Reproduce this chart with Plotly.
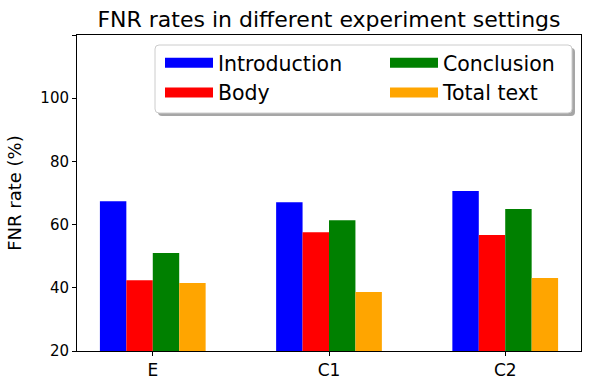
import plotly.graph_objects as go

categories = ["E", "C1", "C2"]
series_names = ["Introduction", "Body", "Conclusion", "Total text"]
introduction = [67.4, 67.1, 70.6]
body = [42.4, 57.6, 56.7]
conclusion = [51.0, 61.4, 64.9]
total_text = [41.5, 38.7, 43.1]
colors = ["blue", "red", "green", "orange"]
y_ticks = [20, 40, 60, 80, 100, 120]
y_ticklabels = ["20", "40", "60", "80", "100", ""]

values = [introduction, body, conclusion, total_text]
legend_ids = ["legend", "legend", "legend2", "legend2"]

# plot area in pixels
L, R, T, B = 77, 581, 35, 351
W, H = R - L, B - T


def px_x(p):
    return (p - L) / W


def px_y(p):
    return (B - p) / H


def rounded_rect(x0, y0, x1, y1, r):
    rx, ry = r / W, r / H
    X0, X1 = px_x(x0), px_x(x1)
    Y0, Y1 = px_y(y0), px_y(y1)
    return (f"M{X0+rx},{Y0} L{X1-rx},{Y0} Q{X1},{Y0} {X1},{Y0-ry} "
            f"L{X1},{Y1+ry} Q{X1},{Y1} {X1-rx},{Y1} L{X0+rx},{Y1} "
            f"Q{X0},{Y1} {X0},{Y1+ry} L{X0},{Y0-ry} Q{X0},{Y0} {X0+rx},{Y0} Z")


fig = go.Figure()
for name, vals, col in zip(series_names, values, colors):
    fig.add_trace(go.Bar(x=categories, y=vals, name=name, marker=dict(color=col, line=dict(width=0)),
                         showlegend=False))
for name, col, lg in zip(series_names, colors, legend_ids):
    fig.add_trace(go.Scatter(x=[None], y=[None], mode="lines", name=name, legend=lg,
                             legendgroup=name, line=dict(color=col, width=14)))

legend_common = dict(orientation="v", xanchor="left", yanchor="top", font=dict(size=20.5),
                     bgcolor="rgba(0,0,0,0)", borderwidth=0, itemwidth=48,
                     traceorder="grouped", tracegroupgap=0,
                     xref="paper", yref="paper")

fig.update_layout(
    width=589, height=390,
    margin=dict(l=L, r=589 - R, t=T, b=390 - B),
    paper_bgcolor="white", plot_bgcolor="white",
    font=dict(family="DejaVu Sans", color="black"),
    barmode="group", bargap=0.4, bargroupgap=0,
    title=dict(text="FNR rates in different experiment settings", font=dict(size=22),
               x=(L + R) / 2 / 589, xanchor="center", xref="container",
               y=1 - 19 / 390, yanchor="middle", yref="container"),
    legend=dict(x=px_x(160), y=px_y(43), **legend_common),
    legend2=dict(x=px_x(385), y=px_y(43), **legend_common),
    showlegend=True,
    shapes=[
        dict(type="path", xref="paper", yref="paper", path=rounded_rect(158, 48, 575, 116, 4),
             fillcolor="rgba(0,0,0,0.35)", line=dict(width=0)),
        dict(type="path", xref="paper", yref="paper", path=rounded_rect(155, 45, 572, 113, 4),
             fillcolor="white", line=dict(color="#cccccc", width=1)),
    ],
)
fig.update_xaxes(range=[-0.43, 2.43], showline=True, linecolor="black", linewidth=1, mirror=True,
                 ticks="outside", ticklen=4, tickcolor="black", tickfont=dict(size=17),
                 showgrid=False, zeroline=False, automargin=False)
fig.update_yaxes(range=[20, 120], tickvals=y_ticks, ticktext=y_ticklabels,
                 showline=True, linecolor="black", linewidth=1, mirror=True,
                 ticks="outside", ticklen=4, tickcolor="black", tickfont=dict(size=15),
                 title=dict(text="FNR rate (%)", font=dict(size=18), standoff=14),
                 showgrid=False, zeroline=False, automargin=False)

fig.write_html("out.html", config={"displayModeBar": False},
               post_script="document.body.style.margin='0';")
